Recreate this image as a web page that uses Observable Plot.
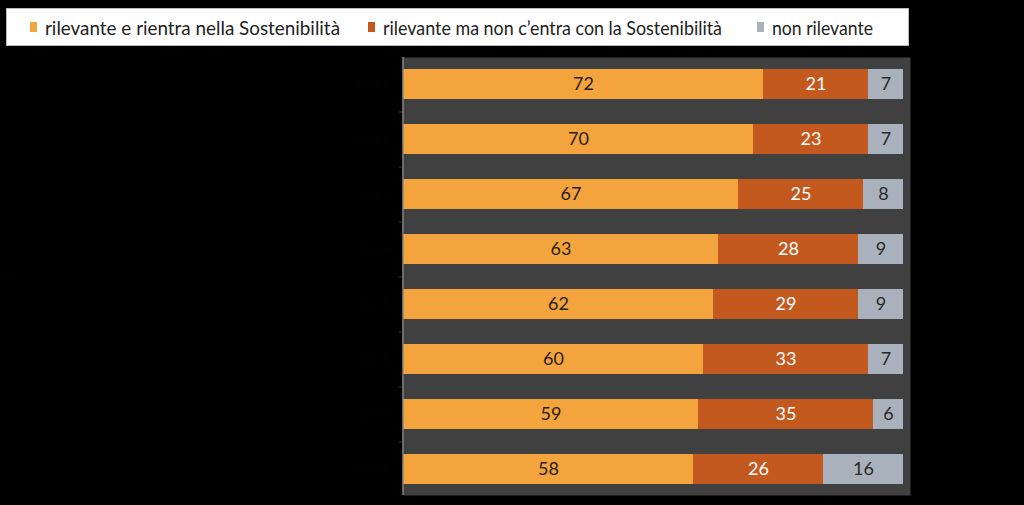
<!DOCTYPE html>
<html><head><meta charset="utf-8">
<script src="https://cdn.jsdelivr.net/npm/d3@7"></script>
<script src="https://cdn.jsdelivr.net/npm/@observablehq/plot@0.6"></script>
<style>
html,body{margin:0;padding:0;background:#000;}
#wrap{position:relative;width:1024px;height:505px;overflow:hidden;}
#legend{position:absolute;left:6px;top:8px;width:903px;height:38px;background:#fff;border:1px solid #bbb;box-sizing:border-box;
 font-family:Lato,"Open Sans",sans-serif;font-size:19px;color:#222;}
#legend .it{position:absolute;top:0;height:36px;display:flex;align-items:center;white-space:nowrap;}
#legend .sw{width:7px;height:10px;margin-right:8px;display:inline-block;}
</style></head>
<body><div id="wrap"><div id="legend"></div></div>
<script>
const categories = ["Voce 1","Voce 2","Voce 3","Voce 4","Voce 5","Voce 6","Voce 7","Voce 8"];
const series = ["rilevante e rientra nella Sostenibilità","rilevante ma non c\u2019entra con la Sostenibilità","non rilevante"];
const rilevanteSost = [72,70,67,63,62,60,59,58];
const rilevanteNonSost = [21,23,25,28,29,33,35,26];
const nonRilevante = [7,7,8,9,9,7,6,16];
const colors = ["#F3A43C","#C4591F","#A9B1BC"];
const textColors = ["#2a1d10","#ffffff","#2a2a2a"];
const legendX = [30, 368, 757];
const legendW = [295, 339, 101];

const vals = [rilevanteSost, rilevanteNonSost, nonRilevante];
const data = [];
categories.forEach((c,i)=>series.forEach((s,j)=>data.push({cat:c,series:s,value:vals[j][i],k:j})));

const plot = Plot.plot({
  width:1024, height:505,
  marginTop:57, marginBottom:10, marginLeft:403, marginRight:114,
  style:{background:"transparent", fontFamily:"Lato, sans-serif"},
  x:{domain:[0,101.4], axis:null},
  y:{domain:categories, paddingInner:0.455, paddingOuter:0.2, axis:null},
  color:{domain:series, range:colors},
  marks:[
    Plot.frame({fill:"#404040", stroke:null}),
    Plot.axisY({tickSize:0, color:"#030303", fontSize:11, tickPadding:14}),
    Plot.ruleY(categories.slice(0,-1), {x1:-0.8, x2:0, stroke:"#3a3a3a", dy:27.5}),
    Plot.barX(data, Plot.stackX({x:"value", y:"cat", fill:"series", order:series})),
    Plot.text(data, Plot.stackX({x:"value", y:"cat", z:"series", order:series, text:d=>String(d.value),
      fill:d=>textColors[d.k], fontSize:18, fontWeight:d=>d.k===1?"bold":"normal"})),
    Plot.ruleX([0], {stroke:"#8a8a8a", strokeWidth:1.5, dx:-0.5})
  ]
});
document.getElementById("wrap").appendChild(plot);
plot.style.position="absolute"; plot.style.left="0"; plot.style.top="0";
const lg = document.getElementById("legend");
series.forEach((s,j)=>{
  const it=document.createElement("div"); it.className="it"; it.style.left=(legendX[j]-7)+"px";
  it.innerHTML=`<span class="sw" style="background:${colors[j]}"></span><span class="tx">${s}</span>`;
  lg.appendChild(it);
  const tx=it.querySelector(".tx");
  const w=tx.getBoundingClientRect().width;
  tx.style.display="inline-block";
  tx.style.transformOrigin="left center";
  tx.style.transform=`scaleX(${legendW[j]/w})`;
});
document.getElementById("wrap").appendChild(lg);
</script></body></html>
